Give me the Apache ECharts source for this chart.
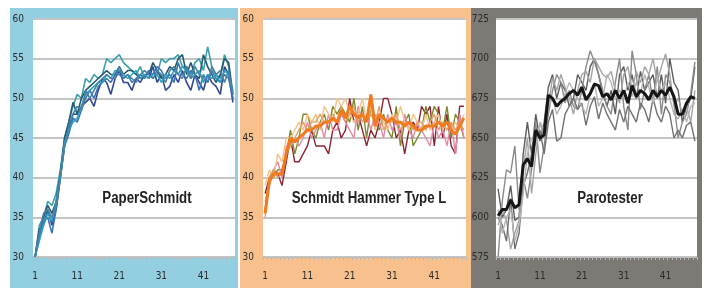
<!DOCTYPE html>
<html>
<head>
<meta charset="utf-8">
<title>rebound-curves</title>
<script src="https://cdn.jsdelivr.net/npm/echarts@6/dist/echarts.min.js"></script>
<style>html,body{margin:0;padding:0;background:#fff}</style>
</head>
<body>
<div id="main" style="width:708px;height:288px"></div>
<script>
var impacts = ['1','2','3','4','5','6','7','8','9','10','11','12','13','14','15','16','17','18','19','20',
  '21','22','23','24','25','26','27','28','29','30','31','32','33','34','35','36','37','38','39','40',
  '41','42','43','44','45','46','47','48'];

// PaperSchmidt
var paper1 = [30,34,35,37,36.5,38,41,45,47,49,50.5,50,52.5,52,53,52.5,53,55,54.5,55,55.5,54.5,54,53.5,53,54,52.5,53.5,52.5,53,55,54.5,55,55,55.5,54,54,53,54.5,55,53.5,56.5,54,53,52.5,55.5,54,50];
var paper2 = [30,33.5,34,36,34,36,40,44,46,48,48,49,49.5,50,49,51,52.5,52,50.5,52.5,53.5,52,52,51,52.5,52,53,52.5,54,52,53,51,51.5,53,52,53.5,52,51,53,52,51,53,52,51.5,50.5,54,53,49.5];
var paper3 = [30,33,35,36.5,35.5,37,40.5,45,47,49.5,48,50,51,51.5,52,52.5,53,53.5,53,53,54,53,53.5,53.5,53,52.5,53,53,54.5,53.5,52.5,53,54,53.5,55,55.5,53,54.5,53,52.5,55.5,54,53,52,53,55,54.5,50.5];
var paper4 = [30,32.5,34.5,35,33,36,40,44,45.5,47.5,47,48.5,50,51,50,51.5,52,52.5,52,53,53,52.5,53,52,52.5,53,52.5,53.5,53,54,53.5,52.5,53,52,54.5,53,52.5,53.5,53,51,53,52,53.5,52.5,52,53,52.5,50];
var paper5 = [30,32,34,35.5,34.5,37,40,44.5,46,47,47.5,49,50.5,51,51.5,52,52,53,52.5,53.5,53.5,53,52.5,53,53.5,52.5,53,52.5,53,53,52,53,52.5,53.5,53,54,53.5,52.5,53,53.5,52,53,52.5,53,52,53.5,53,51];
var paper6 = [30,33,35.5,36,35,36.5,40.5,44,46.5,48,49,48.5,51,50,51,52,52.5,53,52.5,52.5,54,52.5,53,52.5,52,53,53.5,53,52.5,53.5,53,52,53.5,54,53,52.5,54,52.5,54,53,52.5,52,54,53,53.5,52,53.5,50.5];

// Schmidt Hammer Type L
var typeL1 = [38,40,41,40.5,39,42,45,42,42,43,44,46,44,44,44,43,46,47,45,46,50,47,48,46,44,46,45,47,50,50,48,45,46,43,46,47,46,49,48,49,44,49,45,48,44,43,49,49];
var typeL2 = [36,40,40,41,41,43,46,43,45,48,48,46,45,47,48,46,49,48,49,48,47,50,46,49,45,49,47,46,48,46,45,49,44,47,48,44,45,46,49,47,49,48,46,49,45,48,47,45];
var typeL3 = [37,39,41,42,40,44,44,45,44,45,47,45,46,47,45,48,46,46,48,47,46,45,49,47,48,46,48,47,45,48,46,47,45,48,46,45,47,46,45,44,47,45,46,44,47,43,48,45];
var typeL4 = [39,41,40,43,42,45,45,46,47,46,48,47,48,46,49,48,47,50,49,50,48,47,48,50,47,49,46,48,47,46,48,47,49,47,46,48,47,46,48,46,47,48,46,47,46,47,46,48];
var typeL5 = [35,40,41,40,40.5,43,44,45,46,47,46,47,47,48,47,47,48,47,49,47,48,49,47,48,47,48,47,49,46,47,47,48,46,47,47,46,47,47,46,47,48,46,47,46,47,46,47,46];
var typeLMean = [35.5,39.5,40.5,40.5,40.5,43,45,44.5,45,45.5,46,46,46.5,46.5,47,47,47.5,47,48.5,47.5,49,48,47.5,48,47,50.5,46.5,48,47.5,47,47.5,47,47,46.5,47,46.5,46,46,46.5,46.5,46.5,47,46.5,47,46,45.5,46.5,47.5];

// Parotester
var paro1 = [618,600,605,620,598,600,640,660,640,665,648,660,682,690,675,685,680,670,675,690,685,680,695,700,690,678,670,680,665,690,695,680,690,675,692,680,685,690,675,690,672,700,685,680,660,670,675,695];
var paro2 = [575,610,630,628,645,605,625,612,630,660,628,645,665,680,690,685,672,680,670,668,680,695,705,698,690,680,670,665,685,700,670,655,705,690,668,680,690,672,695,665,690,685,672,650,660,665,678,698];
var paro3 = [595,605,598,580,590,598,630,650,615,640,660,650,670,688,680,690,682,675,665,680,690,692,685,700,695,690,688,692,680,672,690,695,680,692,685,695,690,700,685,695,703,690,670,675,665,670,660,680];
var paro4 = [600,595,585,612,580,590,620,628,640,650,655,640,660,668,648,650,665,670,675,668,672,658,670,676,662,672,665,660,655,668,660,670,665,660,672,668,660,675,665,660,670,665,650,655,650,658,660,648];
var paro5 = [605,590,600,605,585,595,615,640,650,645,660,655,670,675,665,670,678,685,680,675,670,665,678,685,670,675,690,685,675,680,675,685,676,685,678,690,682,672,688,680,685,675,665,662,668,660,670,672];
var paroMean = [601,605,605,611,606,608,633,637,632,655,650,652,677,675,670,673,675,678,680,677,682,674,678,684,683,676,678,674,680,675,680,672,683,676,680,678,674,680,676,680,677,682,676,665,665,672,676,675];

var panelTitles = ['PaperSchmidt', 'Schmidt Hammer Type L', 'Parotester'];

var chart = echarts.init(document.getElementById('main'), null, {renderer: 'canvas'});
var labelFont = "'DejaVu Sans Condensed', 'Liberation Sans Narrow', 'Liberation Sans', Arial, sans-serif";
var titleFont = "'Liberation Sans', Arial, sans-serif";

var grids = [
  {left: 33, top: 19, width: 202, height: 238},
  {left: 263, top: 19, width: 203, height: 238},
  {left: 496, top: 19, width: 201, height: 238}
];
var panelBg = [
  {x: 10, y: 8, w: 228, c: '#93cfe0'},
  {x: 240, y: 8, w: 231, c: '#f8c08c'},
  {x: 471, y: 8, w: 231, c: '#7d7a76'}
];
var yRange = [[30, 60, 5], [30, 60, 5], [575, 725, 25]];
var titleX = [147, 369, 610];

var lines = [
  [
    {d: paper1, c: '#3c9faa', w: 1.6},
    {d: paper2, c: '#33478c', w: 1.6},
    {d: paper3, c: '#245a70', w: 1.6},
    {d: paper4, c: '#3b74b6', w: 1.6},
    {d: paper5, c: '#2aa2c0', w: 1.6},
    {d: paper6, c: '#4a80a4', w: 1.6}
  ],
  [
    {d: typeL1, c: '#8e2433', w: 1.4},
    {d: typeL2, c: '#7c8a2c', w: 1.4},
    {d: typeL3, c: '#e48aa4', w: 1.4},
    {d: typeL4, c: '#f5c48a', w: 1.4},
    {d: typeL5, c: '#e2a066', w: 1.4},
    {d: typeLMean, c: '#f07a1c', w: 3}
  ],
  [
    {d: paro1, c: '#5c5c5c', w: 1.4},
    {d: paro2, c: '#8a8a8a', w: 1.4},
    {d: paro3, c: '#a4a4a4', w: 1.4},
    {d: paro4, c: '#707070', w: 1.4},
    {d: paro5, c: '#b4b4b4', w: 1.4},
    {d: paroMean, c: '#161616', w: 3}
  ]
];

var xAxes = [], yAxes = [], series = [], graphics = [];
panelBg.forEach(function (p) {
  graphics.push({type: 'rect', z: -10, shape: {x: p.x, y: p.y, width: p.w, height: 280}, style: {fill: p.c}});
});
grids.forEach(function (g, i) {
  g.show = true;
  g.backgroundColor = '#ffffff';
  g.borderWidth = 0;
  xAxes.push({
    type: 'category', gridIndex: i, data: impacts, boundaryGap: true,
    axisLine: {lineStyle: {color: '#bdbdbd', width: 1}},
    axisTick: {show: true, interval: 0, length: 3, lineStyle: {color: '#b8b8b8'}},
    axisLabel: {interval: 9, margin: 14, fontSize: 10, color: '#2a2a2a', fontFamily: labelFont}
  });
  yAxes.push({
    type: 'value', gridIndex: i, min: yRange[i][0], max: yRange[i][1], interval: yRange[i][2],
    axisLine: {show: false}, axisTick: {show: false},
    axisLabel: {margin: i === 2 ? 7 : 9, fontSize: 10, color: '#2a2a2a', fontFamily: labelFont},
    splitLine: {lineStyle: {color: '#c4c4c4', width: 2}}
  });
  lines[i].forEach(function (s) {
    series.push({
      type: 'line', xAxisIndex: i, yAxisIndex: i, data: s.d, showSymbol: false, silent: true,
      lineStyle: {color: s.c, width: s.w}, itemStyle: {color: s.c}
    });
  });
  graphics.push({
    type: 'text', x: titleX[i], y: 199, z: 10, scaleX: 0.83,
    style: {text: panelTitles[i], fill: '#222', font: 'bold 16px ' + titleFont, textAlign: 'center', textVerticalAlign: 'middle'}
  });
});

chart.setOption({
  animation: false,
  backgroundColor: '#ffffff',
  grid: grids,
  xAxis: xAxes,
  yAxis: yAxes,
  series: series,
  graphic: graphics
});
</script>
</body>
</html>
